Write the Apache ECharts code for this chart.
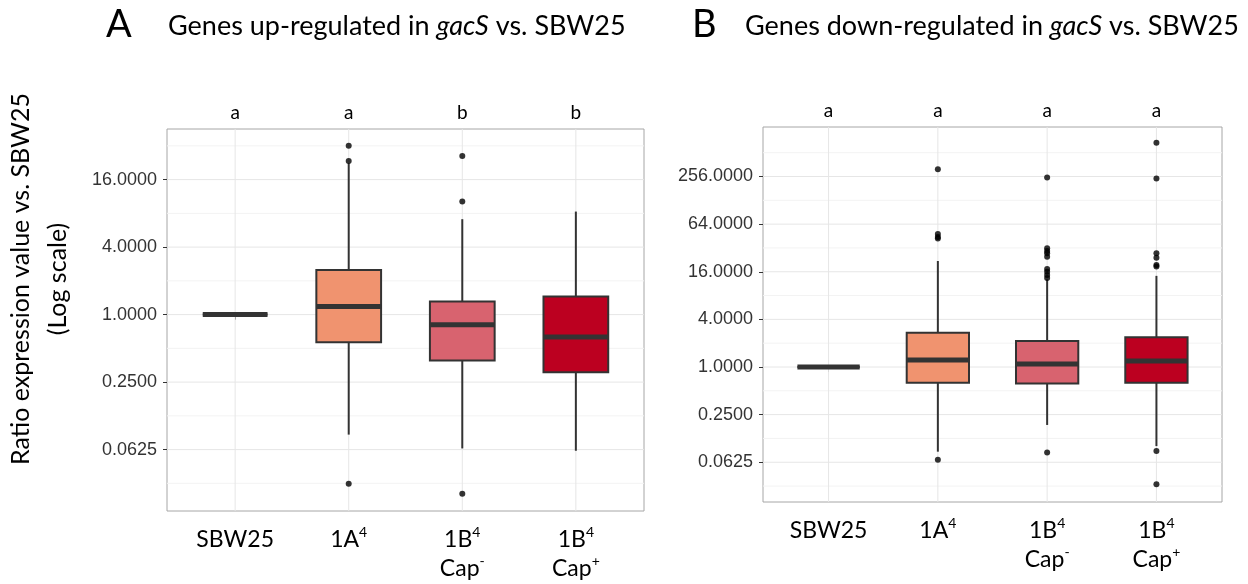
<!DOCTYPE html>
<html>
<head>
<meta charset="utf-8">
<script src="https://cdn.jsdelivr.net/npm/echarts@6/dist/echarts.min.js"></script>
<style>
  html, body { margin: 0; padding: 0; background: #fff; }
  #chart { width: 1248px; height: 584px; }
</style>
</head>
<body>
<div id="chart"></div>
<script>
// categories, letters above each group
const CATEGORIES = ['SBW25', '1A4', '1B4 Cap-', '1B4 Cap+']
const LETTERS_UP = ['a', 'a', 'b', 'b']
const LETTERS_DOWN = ['a', 'a', 'a', 'a']

// boxes: [lower whisker, Q1, median, Q3, upper whisker] as expression ratio
const UP_BOXES = [
  [1, 1, 1, 1, 1],
  [0.085, 0.567, 1.18, 2.5, 22.4],
  [0.064, 0.389, 0.81, 1.31, 7.1],
  [0.061, 0.306, 0.63, 1.45, 8.3]
]
const UP_OUTLIERS = [
  [],
  [32, 23.5, 0.031],
  [26, 10.2, 0.0252],
  []
]
const DOWN_BOXES = [
  [1, 1, 1, 1, 1],
  [0.085, 0.633, 1.23, 2.71, 21.9],
  [0.185, 0.62, 1.09, 2.13, 12.8],
  [0.1, 0.633, 1.19, 2.37, 14.2]
]
const DOWN_OUTLIERS = [
  [],
  [317, 48, 44, 42, 0.067],
  [248, 31.7, 29.3, 27.4, 24.8, 17.3, 16, 14.6, 13.3, 0.083],
  [686, 241, 27.4, 24.1, 19.5, 18.6, 0.087, 0.033]
]

// y axis ticks (log2 scale) and the minor grid between them
const UP_TICKS = [0.0625, 0.25, 1, 4, 16]
const UP_MINOR = [0.03125, 0.125, 0.5, 2, 8, 32]
const DOWN_TICKS = [0.0625, 0.25, 1, 4, 16, 64, 256]
const DOWN_MINOR = [0.03125, 0.125, 0.5, 2, 8, 32, 128, 512]

const BOX_COLORS = ['#333333', '#F0936F', '#D8636F', '#BC0020']
const LINE = '#333333'
const CAL = 'Lato, "Open Sans", sans-serif'
const ARIAL = '"Liberation Sans", Arial, sans-serif'

const XLABELS = ['SBW25', '1A{sup|4}', '1B{sup|4}\nCap{sup|-}', '1B{sup|4}\nCap{sup|+}']

let chart = echarts.init(document.getElementById('chart'), null, { renderer: 'canvas' })

let makeXAxes = (gi, letters) => [
  {
    type: 'value', gridIndex: gi, min: 0.4, max: 4.6,
    axisLine: { show: false },
    splitLine: { show: false },
    axisTick: { customValues: [1, 2, 3, 4], length: 5, lineStyle: { color: LINE, width: 1 } },
    axisLabel: {
      customValues: [1, 2, 3, 4],
      formatter: v => XLABELS[Math.round(v) - 1],
      fontFamily: CAL, fontSize: 23, color: '#000', lineHeight: 29, margin: 14,
      rich: {
        sup: { fontFamily: CAL, fontSize: 14, color: '#000', verticalAlign: 'top', lineHeight: 29 }
      }
    }
  },
  {
    type: 'value', gridIndex: gi, min: 0.4, max: 4.6, position: 'top',
    axisLine: { show: false }, axisTick: { show: false }, splitLine: { show: false },
    axisLabel: {
      customValues: [1, 2, 3, 4],
      formatter: v => letters[Math.round(v) - 1],
      fontFamily: CAL, fontSize: 19, color: '#000', margin: 7
    }
  }
]

let makeYAxis = (gi, lo, hi, ticks) => ({
  type: 'value', gridIndex: gi, min: lo, max: hi,
  axisLine: { show: false },
  splitLine: { show: false },
  axisTick: { customValues: ticks.map(Math.log2), length: 4, lineStyle: { color: LINE, width: 1 } },
  axisLabel: {
    customValues: ticks.map(Math.log2),
    formatter: v => Math.pow(2, v).toFixed(4),
    fontFamily: ARIAL, fontSize: 18, color: '#333', margin: 10
  }
})

// background grid lines, drawn under the boxes
let gridSeries = (xi, yi, major, minor) => ({
  type: 'custom', xAxisIndex: xi, yAxisIndex: yi, z: 1, silent: true,
  data: minor.map(v => [1, Math.log2(v), 0])
    .concat(major.map(v => [1, Math.log2(v), 1]))
    .concat(CATEGORIES.map((c, i) => [i + 1, 0, 2])),
  renderItem: (params, api) => {
    const cs = params.coordSys
    const kind = api.value(2)
    if (kind === 2) {
      const x = api.coord([api.value(0), 0])[0]
      return { type: 'line', shape: { x1: x, y1: cs.y, x2: x, y2: cs.y + cs.height },
        style: { stroke: '#e6e6e6', lineWidth: 1 } }
    }
    const y = api.coord([1, api.value(1)])[1]
    return { type: 'line', shape: { x1: cs.x, y1: y, x2: cs.x + cs.width, y2: y },
      style: { stroke: kind === 1 ? '#e6e6e6' : '#f3f3f3', lineWidth: 1 } }
  }
})

let boxSeries = (xi, yi, boxes) => ({
  type: 'custom', xAxisIndex: xi, yAxisIndex: yi, z: 3,
  data: boxes.map((b, i) => [i + 1].concat(b.map(Math.log2))),
  encode: { x: 0, y: [1, 2, 3, 4, 5] },
  renderItem: (params, api) => {
    const x = api.value(0)
    const p = [1, 2, 3, 4, 5].map(d => api.coord([x, api.value(d)]))
    const half = api.size([0.57, 0])[0] / 2
    const cx = p[0][0]
    const color = BOX_COLORS[params.dataIndex]
    return {
      type: 'group',
      children: [
        { type: 'line', shape: { x1: cx, y1: p[0][1], x2: cx, y2: p[1][1] }, style: { stroke: LINE, lineWidth: 2 } },
        { type: 'line', shape: { x1: cx, y1: p[3][1], x2: cx, y2: p[4][1] }, style: { stroke: LINE, lineWidth: 2 } },
        { type: 'rect', shape: { x: cx - half, y: p[3][1], width: half * 2, height: p[1][1] - p[3][1] },
          style: { fill: color, stroke: LINE, lineWidth: 2 } },
        { type: 'line', shape: { x1: cx - half, y1: p[2][1], x2: cx + half, y2: p[2][1] },
          style: { stroke: LINE, lineWidth: 5 } }
      ]
    }
  }
})

let outlierSeries = (xi, yi, outliers) => {
  let pts = []
  outliers.forEach((list, i) => list.forEach(v => pts.push([i + 1, Math.log2(v)])))
  return {
    type: 'scatter', xAxisIndex: xi, yAxisIndex: yi, z: 4, silent: true,
    symbolSize: 6, itemStyle: { color: '#000' }, data: pts
  }
}

let option = {
  animation: false,
  backgroundColor: '#fff',
  grid: [
    { left: 167, top: 129, width: 477, height: 382, show: true, borderColor: '#a6a6a6', borderWidth: 1, backgroundColor: '#fff' },
    { left: 763, top: 127, width: 459, height: 375, show: true, borderColor: '#a6a6a6', borderWidth: 1, backgroundColor: '#fff' }
  ],
  xAxis: makeXAxes(0, LETTERS_UP).concat(makeXAxes(1, LETTERS_DOWN)),
  yAxis: [
    makeYAxis(0, -5.82, 5.5, UP_TICKS),
    makeYAxis(1, -5.67, 10.08, DOWN_TICKS)
  ],
  series: [
    gridSeries(0, 0, UP_TICKS, UP_MINOR),
    boxSeries(0, 0, UP_BOXES),
    outlierSeries(0, 0, UP_OUTLIERS),
    gridSeries(2, 1, DOWN_TICKS, DOWN_MINOR),
    boxSeries(2, 1, DOWN_BOXES),
    outlierSeries(2, 1, DOWN_OUTLIERS)
  ],
  graphic: [
    { type: 'text', left: 106, top: 6, style: { text: 'A', font: '38px ' + CAL, fill: '#000' } },
    {
      type: 'text', left: 168, top: 13,
      style: {
        text: 'Genes up-regulated in {i|gacS} vs. SBW25', font: '27px ' + CAL, fill: '#000',
        rich: { i: { fontStyle: 'italic', fontFamily: CAL, fontSize: 27, fill: '#000' } }
      }
    },
    { type: 'text', left: 692, top: 6, style: { text: 'B', font: '38px ' + CAL, fill: '#000' } },
    {
      type: 'text', left: 745, top: 13,
      style: {
        text: 'Genes down-regulated in {i|gacS} vs. SBW25', font: '27px ' + CAL, fill: '#000',
        rich: { i: { fontStyle: 'italic', fontFamily: CAL, fontSize: 27, fill: '#000' } }
      }
    },
    {
      type: 'text', x: 39, y: 279, rotation: Math.PI / 2,
      style: {
        text: 'Ratio expression value vs. SBW25\n(Log scale)', font: '25px ' + CAL, fill: '#000',
        align: 'center', verticalAlign: 'middle', textAlign: 'center', textVerticalAlign: 'middle', lineHeight: 37
      }
    }
  ]
}

chart.setOption(option)
</script>
</body>
</html>
